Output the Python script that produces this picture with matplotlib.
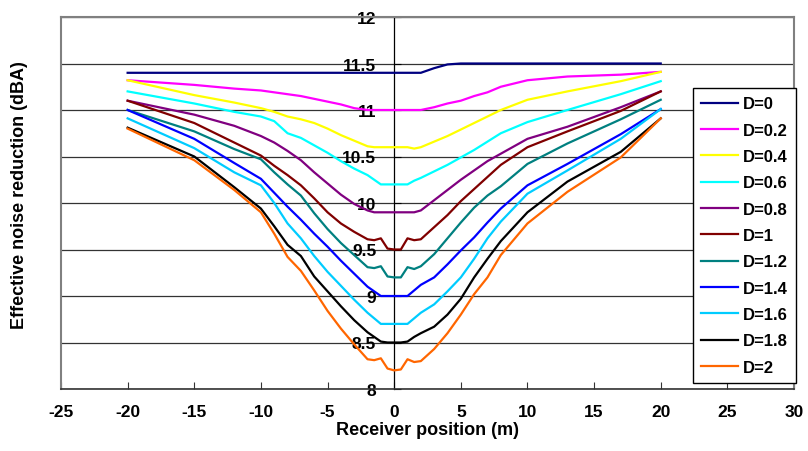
import matplotlib
matplotlib.use('Agg')
import matplotlib.pyplot as plt
from matplotlib.ticker import MultipleLocator, FormatStrFormatter

plt.rcParams['font.family'] = ['Liberation Sans', 'DejaVu Sans']
plt.rcParams['font.weight'] = 'bold'
plt.rcParams['axes.unicode_minus'] = False

# receiver positions (m)
pos = [-20, -15, -12, -10, -9, -8, -7, -6, -5, -4, -3, -2, -1.5, -1, -0.5,
       0, 0.5, 1, 1.5, 2, 3, 4, 5, 6, 7, 8, 10, 13, 17, 20]

d00 = [11.40, 11.40, 11.40, 11.40, 11.40, 11.40, 11.40, 11.40, 11.40, 11.40, 11.40, 11.40, 11.40, 11.40, 11.40,
       11.40, 11.40, 11.40, 11.40, 11.40, 11.45, 11.49, 11.50, 11.50, 11.50, 11.50, 11.50, 11.50, 11.50, 11.50]
d02 = [11.32, 11.27, 11.23, 11.21, 11.19, 11.17, 11.15, 11.12, 11.09, 11.06, 11.02, 11.00, 11.00, 11.00, 11.00,
       11.00, 11.00, 11.00, 11.00, 11.00, 11.03, 11.07, 11.10, 11.15, 11.19, 11.25, 11.32, 11.36, 11.38, 11.41]
d04 = [11.32, 11.16, 11.08, 11.02, 10.98, 10.93, 10.90, 10.86, 10.80, 10.73, 10.67, 10.61, 10.60, 10.60, 10.60,
       10.60, 10.60, 10.60, 10.585, 10.60, 10.66, 10.72, 10.79, 10.86, 10.93, 11.00, 11.11, 11.20, 11.31, 11.41]
d06 = [11.20, 11.07, 10.98, 10.93, 10.88, 10.75, 10.70, 10.62, 10.54, 10.45, 10.37, 10.30, 10.25, 10.20, 10.20,
       10.20, 10.20, 10.20, 10.24, 10.27, 10.34, 10.41, 10.49, 10.57, 10.66, 10.75, 10.87, 11.00, 11.17, 11.31]
d08 = [11.10, 10.95, 10.83, 10.72, 10.65, 10.56, 10.46, 10.33, 10.21, 10.09, 9.99, 9.92, 9.90, 9.90, 9.90,
       9.90, 9.90, 9.90, 9.90, 9.92, 10.03, 10.14, 10.25, 10.35, 10.45, 10.53, 10.69, 10.82, 11.03, 11.20]
d10 = [11.10, 10.86, 10.65, 10.51, 10.40, 10.30, 10.19, 10.05, 9.90, 9.78, 9.69, 9.61, 9.60, 9.62, 9.51,
       9.50, 9.50, 9.62, 9.60, 9.61, 9.74, 9.87, 10.02, 10.15, 10.28, 10.41, 10.60, 10.77, 10.99, 11.20]
d12 = [11.00, 10.77, 10.58, 10.47, 10.33, 10.20, 10.08, 9.89, 9.72, 9.57, 9.44, 9.31, 9.30, 9.32, 9.21,
       9.20, 9.20, 9.31, 9.29, 9.32, 9.45, 9.62, 9.79, 9.95, 10.08, 10.18, 10.42, 10.64, 10.90, 11.11]
d14 = [11.00, 10.69, 10.43, 10.26, 10.11, 9.96, 9.82, 9.67, 9.53, 9.38, 9.24, 9.10, 9.05, 9.00, 9.00,
       9.00, 9.00, 9.00, 9.06, 9.12, 9.20, 9.34, 9.49, 9.63, 9.79, 9.94, 10.19, 10.42, 10.74, 11.01]
d16 = [10.91, 10.59, 10.33, 10.19, 10.00, 9.78, 9.62, 9.43, 9.26, 9.11, 8.96, 8.82, 8.76, 8.70, 8.70,
       8.70, 8.70, 8.70, 8.76, 8.82, 8.91, 9.05, 9.20, 9.40, 9.62, 9.80, 10.10, 10.35, 10.69, 11.01]
d18 = [10.81, 10.50, 10.17, 9.94, 9.75, 9.55, 9.43, 9.21, 9.05, 8.89, 8.74, 8.61, 8.56, 8.51, 8.50,
       8.50, 8.50, 8.51, 8.56, 8.60, 8.67, 8.80, 8.97, 9.20, 9.40, 9.59, 9.90, 10.23, 10.55, 10.91]
d20 = [10.80, 10.46, 10.14, 9.90, 9.67, 9.42, 9.27, 9.06, 8.84, 8.65, 8.48, 8.32, 8.31, 8.33, 8.22,
       8.20, 8.21, 8.32, 8.29, 8.30, 8.43, 8.60, 8.80, 9.02, 9.20, 9.44, 9.78, 10.12, 10.49, 10.91]

labels = ['D=0', 'D=0.2', 'D=0.4', 'D=0.6', 'D=0.8', 'D=1', 'D=1.2', 'D=1.4', 'D=1.6', 'D=1.8', 'D=2']
series = [d00, d02, d04, d06, d08, d10, d12, d14, d16, d18, d20]
colors = ['#000080', '#FF00FF', '#FFFF00', '#00FFFF', '#800080', '#800000',
          '#008080', '#0000FF', '#00CCFF', '#000000', '#FF6600']

fig = plt.figure(figsize=(8.08, 4.52), dpi=100)
ax = fig.add_axes([61/808, 1-390/452, (794-61)/808, (390-18)/452])

for y, c, lab in zip(series, colors, labels):
    ax.plot(pos, y, color=c, lw=1.6, label=lab, zorder=3)

ax.set_xlim(-25, 30)
ax.set_ylim(8, 12)
ax.xaxis.set_major_locator(MultipleLocator(5))
ax.yaxis.set_major_locator(MultipleLocator(0.5))
ax.yaxis.set_major_formatter(FormatStrFormatter('%g'))
ax.yaxis.grid(True, color='#333333', lw=0.9, zorder=0)
ax.set_axisbelow(True)

ax.spines['left'].set_position(('data', 0))
ax.spines['left'].set_color('black')
ax.spines['left'].set_linewidth(0.9)
for s in ['top', 'right']:
    ax.spines[s].set_color('#808080')
    ax.spines[s].set_linewidth(1.5)
ax.spines['bottom'].set_color('#333333')
ax.spines['bottom'].set_linewidth(1.2)
ax.axvline(-25, color='#808080', lw=1.5, clip_on=False, zorder=1)

ax.tick_params(axis='x', direction='in', length=5, labelsize=12.5, pad=11, color='#333333')
ax.tick_params(axis='y', direction='in', length=5, labelsize=12.5, pad=13)
for t in ax.get_xticklabels() + ax.get_yticklabels():
    t.set_fontweight('bold')

ax.set_xlabel('Receiver position (m)', fontsize=13, fontweight='bold', labelpad=1)
fig.text(20/808, 1-195/452, 'Effective noise reduction (dBA)', rotation=90,
         fontsize=13, fontweight='bold', ha='center', va='center')

leg = fig.legend(loc='upper left', bbox_to_anchor=(693/808, 1-89/452),
                 fontsize=12, frameon=True, fancybox=False, edgecolor='black',
                 framealpha=1, handlelength=2.2, handletextpad=0.3,
                 labelspacing=0.68, borderpad=0.5, borderaxespad=0)
leg.get_frame().set_linewidth(1.0)
for t in leg.get_texts():
    t.set_fontweight('bold')

fig.savefig('out.png', dpi=100)
